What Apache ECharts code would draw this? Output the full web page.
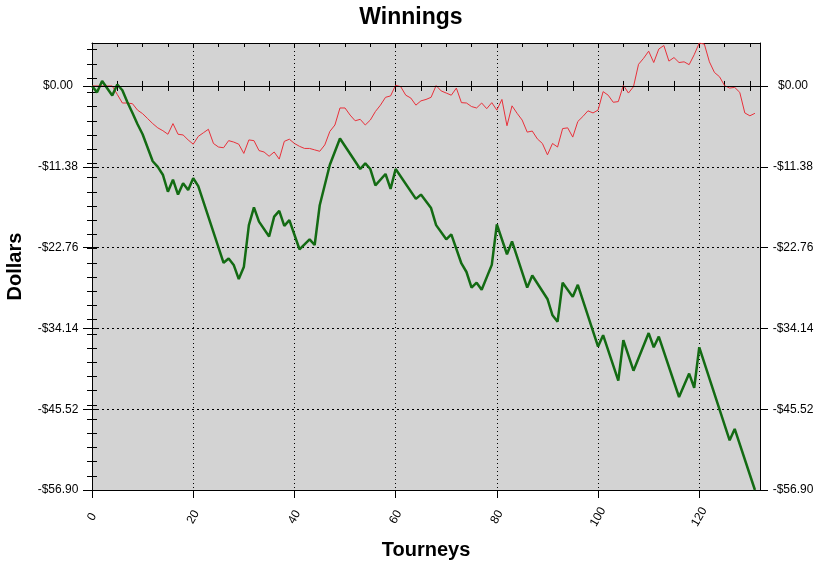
<!DOCTYPE html>
<html><head><meta charset="utf-8">
<script src="https://cdn.jsdelivr.net/npm/echarts@6/dist/echarts.min.js"></script>
<style>html,body{margin:0;padding:0;background:#fff}#c{width:822px;height:568px}</style>
</head><body><div id="c"></div>
<script>
// Red series: one value per tourney (index = tourney number 0..131)
const redValues = [
  0, 0, 0, 0, 0, -1.2, -2.4, -2.4, -2.5, -3.4,
  -3.9, -4.6, -5.3, -5.9, -6.3, -6.8, -5.3, -6.8, -6.9, -7.6,
  -8.2, -7.1, -6.6, -6.1, -8.1, -8.6, -8.7, -7.7, -7.9, -8.2,
  -9.5, -7.6, -7.7, -9.1, -9.3, -9.9, -9.3, -10.3, -7.8, -7.5,
  -8.1, -8.5, -8.8, -8.8, -9.0, -9.2, -8.3, -6.4, -5.5, -3.1,
  -3.1, -4.1, -4.9, -4.7, -5.5, -4.8, -3.6, -2.7, -1.6, -1.4,
  0.1, -0.1, -1.3, -1.7, -2.7, -2.1, -1.9, -1.6, 0.05, -0.7,
  -1.0, -1.3, -0.3, -2.35, -2.4, -2.9, -3.1, -2.4, -3.2, -2.35,
  -3.4, -1.9, -5.6, -2.8, -3.85, -4.8, -6.5, -6.35, -7.45, -8.1,
  -9.7, -8.1, -8.6, -6.0, -5.9, -7.2, -5.0, -4.3, -3.5, -3.8,
  -3.4, -0.8, -1.3, -2.3, -2.2, 0.1, -1.0, -0.1, 3.05, 3.9,
  4.9, 3.3, 5.2, 5.7, 3.5, 4.0, 3.3, 3.4, 3.0, 4.4,
  6.05, 5.9, 3.4, 1.9, 1.3, 0.05, -0.3, -0.2, -0.9, -3.8,
  -4.2, -3.85
];
// Green series: vertices (tourney, dollars)
const greenTourneys = [0,1,2,4,5,6,7,8,9,10,11,12,13,14,15,16,17,18,19,20,21,26,27,28,29,30,31,32,33,35,36,37,38,39,41,43,44,45,47,49,53,54,55,56,58,59,60,64,65,67,68,70,71,73,74,75,76,77,79,80,82,83,86,87,90,91,92,93,95,96,100,101,104,105,107,110,111,112,116,118,119,120,126,127,131];
const greenValues = [0,-0.9,0.7,-1.35,0.2,-0.6,-2.3,-3.8,-5.4,-6.8,-8.7,-10.6,-11.4,-12.5,-14.9,-13.2,-15.3,-13.7,-14.65,-13.0,-14.1,-24.9,-24.3,-25.2,-27.2,-25.5,-19.6,-17.1,-19.1,-21.2,-18.4,-17.6,-19.7,-18.9,-23.0,-21.6,-22.4,-16.8,-11.1,-7.4,-11.7,-10.9,-11.7,-14.0,-12.4,-14.5,-11.7,-15.9,-15.3,-17.2,-19.6,-21.6,-20.9,-25.0,-26.2,-28.4,-27.7,-28.7,-25.2,-19.5,-23.7,-21.9,-28.4,-26.7,-30.0,-32.3,-33.2,-27.7,-29.7,-28.0,-36.7,-35.1,-41.5,-35.8,-40.1,-34.8,-36.8,-35.3,-43.8,-40.5,-42.5,-36.8,-49.9,-48.3,-56.9];
// Tick labels
const yTickValues = [-56.9, -45.52, -34.14, -22.76, -11.38, 0];
const xTickValues = [0, 20, 40, 60, 80, 100, 120];

const Y_MIN = -56.9, Y_MAX = 6.05, X_MIN = 0, X_MAX = 132;
const yMinor = []; for (let k = 0; Y_MIN + 2 * k <= Y_MAX; k++) yMinor.push(+(Y_MIN + 2 * k).toFixed(2));
const yAll = yTickValues.concat(yMinor);
const xMinor = []; for (let v = 0; v <= 130; v += 5) xMinor.push(v);

const FONT = "'Liberation Sans', Arial, sans-serif";
const fmtY = v => (v < -0.001 ? '-$' : '$') + Math.abs(v).toFixed(2);

function yAx(pos, opts) {
  return Object.assign({
    type: 'value', position: pos, offset: 0, min: Y_MIN, max: Y_MAX,
    axisLine: { show: false },
    axisLabel: { show: false },
    splitLine: { show: false },
    axisTick: { show: false }
  }, opts);
}
function xAx(pos, opts) {
  return Object.assign({
    type: 'value', position: pos, offset: 0, min: X_MIN, max: X_MAX,
    axisLine: { show: false },
    axisLabel: { show: false },
    splitLine: { show: false },
    axisTick: { show: false }
  }, opts);
}
const black = { color: '#000', width: 1 };

const option = {
  animation: false,
  backgroundColor: '#fff',
  title: {
    text: 'Winnings', left: 'center', top: 1,
    textStyle: { fontFamily: FONT, fontSize: 23, fontWeight: 'bold', color: '#000' }
  },
  grid: {
    left: 92, right: 62, top: 43, bottom: 78,
    show: true, backgroundColor: '#d3d3d3', borderWidth: 0,
    containLabel: false, outerBoundsMode: 'none'
  },
  xAxis: [
    xAx('bottom', {
      interval: 20,
      name: 'Tourneys', nameLocation: 'middle', nameGap: 50,
      nameTextStyle: { fontFamily: FONT, fontSize: 20, fontWeight: 'bold', color: '#000' },
      axisLine: { show: true, onZero: false, lineStyle: black },
      axisTick: { show: true, inside: false, length: 8, lineStyle: black, customValues: xTickValues },
      axisLabel: { show: true, customValues: xTickValues, rotate: 60, align: 'center', verticalAlign: 'middle',
        margin: 27, fontFamily: FONT, fontSize: 12, color: '#000' },
      splitLine: { show: true, lineStyle: { color: '#000', width: 1, type: [1, 3] } }
    }),
    xAx('bottom', { axisTick: { show: true, inside: true, length: 5, lineStyle: black, customValues: xMinor } }),
    xAx('bottom', { axisTick: { show: true, inside: false, length: 5, lineStyle: black, customValues: xMinor } }),
    xAx('top', {
      axisLine: { show: true, onZero: false, lineStyle: black },
      axisTick: { show: true, inside: true, length: 4, lineStyle: black, customValues: xMinor }
    })
  ],
  yAxis: [
    yAx('left', {
      interval: 11.38,
      name: 'Dollars', nameLocation: 'middle', nameGap: 67,
      nameTextStyle: { fontFamily: FONT, fontSize: 20, fontWeight: 'bold', color: '#000' },
      axisLine: { show: true, onZero: false, lineStyle: black },
      axisTick: { show: true, inside: false, length: 9, lineStyle: black, customValues: yTickValues },
      axisLabel: { show: true, customValues: yTickValues, formatter: fmtY, margin: 34, align: 'center',
        fontFamily: FONT, fontSize: 12, color: '#000' },
      splitLine: { show: true, lineStyle: { color: '#000', width: 1, type: [2, 3] } }
    }),
    yAx('left', { axisTick: { show: true, inside: true, length: 5, lineStyle: black, customValues: yAll } }),
    yAx('left', { axisTick: { show: true, inside: false, length: 5, lineStyle: black, customValues: yMinor } }),
    yAx('right', {
      axisLine: { show: true, onZero: false, lineStyle: black },
      axisTick: { show: true, inside: false, length: 8, lineStyle: black, customValues: yTickValues },
      axisLabel: { show: true, customValues: yTickValues, formatter: fmtY, margin: 33, align: 'center',
        fontFamily: FONT, fontSize: 12, color: '#000' }
    }),
    yAx('right', { axisTick: { show: true, inside: true, length: 5, lineStyle: black, customValues: yAll } }),
    yAx('right', { axisTick: { show: true, inside: false, length: 5, lineStyle: black, customValues: yMinor } })
  ],
  series: [
    {
      type: 'line', data: [], z: 1, silent: true,
      markLine: {
        silent: true, symbol: ['none', 'none'], label: { show: false },
        lineStyle: { color: '#000', width: 1, type: 'solid' },
        data: [{ yAxis: 0 }]
      }
    },
    {
      name: 'Red', type: 'line', z: 2, symbol: 'none',
      data: redValues.map((v, i) => [i, v]),
      lineStyle: { color: '#e8303a', width: 1 }
    },
    {
      name: 'Green', type: 'line', z: 3, symbol: 'none',
      data: greenTourneys.map((t, i) => [t, greenValues[i]]),
      lineStyle: { color: '#136b13', width: 2.5 }
    }
  ]
};
echarts.init(document.getElementById('c')).setOption(option);
</script>
</body></html>
